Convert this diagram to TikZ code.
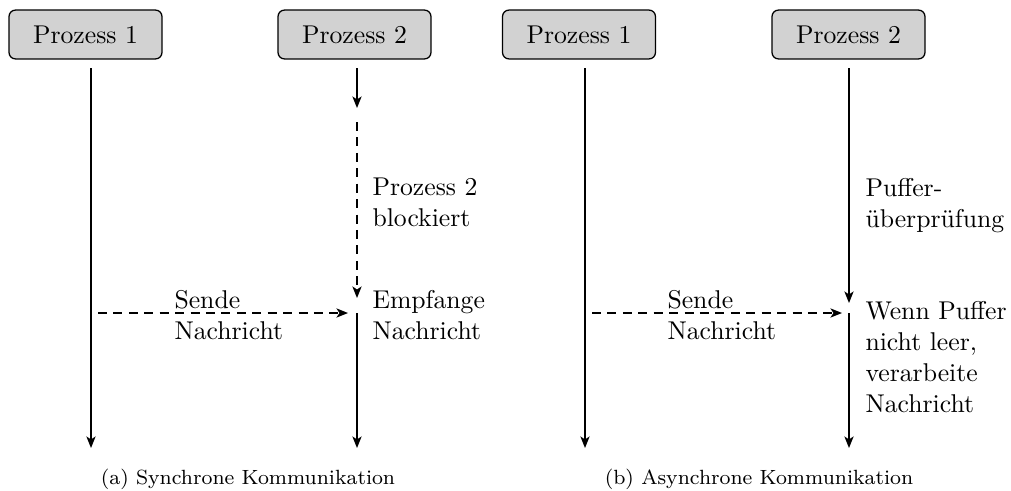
\documentclass[tikz,border=0pt]{standalone}
\usetikzlibrary{arrows.meta}
\begin{document}
\begin{tikzpicture}[x=0.389pt,y=-0.389pt,
  proc/.style={draw, fill=gray!35, rounded corners=2.5pt, minimum width=59.5pt, minimum height=19pt, inner sep=0pt, line width=0.5pt},
  flow/.style={line width=0.6pt, -{Stealth[length=4.5pt,width=3.6pt,inset=1.2pt]}},
  msg/.style={flow, dash pattern=on 3.5pt off 2.5pt},
  lbl/.style={align=left, anchor=base west, inner sep=0pt},
  capt/.style={font=\footnotesize, anchor=base, inner sep=0pt}]
\useasboundingbox (0,0) rectangle (1011,491);
% boxes
\node[proc] (p1a) at (85.5,34.5) {Prozess 1};
\node[proc] (p2a) at (354.5,34.5) {Prozess 2};
\node[proc] (p1b) at (579,34.5) {Prozess 1};
\node[proc] (p2b) at (848.5,34.5) {Prozess 2};
% (a) coordinates
\coordinate (a1s) at (91,68);  \coordinate (a1e) at (91,448);
\coordinate (a2s) at (357,68); \coordinate (a2m) at (357,108);
\coordinate (a2ds) at (357,122); \coordinate (a2de) at (357,298);
\coordinate (a2r) at (357,313); \coordinate (a2e) at (357,448);
\coordinate (ams) at (98,313); \coordinate (ame) at (348,313);
\draw[flow] (a1s) -- (a1e);
\draw[flow] (a2s) -- (a2m);
\draw[msg] (a2ds) -- (a2de);
\draw[flow] (a2r) -- (a2e);
\draw[msg] (ams) -- (ame);
% (b) coordinates
\coordinate (b1s) at (585,68); \coordinate (b1e) at (585,448);
\coordinate (b2s) at (849,68); \coordinate (b2m) at (849,303);
\coordinate (b2r) at (849,313); \coordinate (b2e) at (849,448);
\coordinate (bms) at (592,313); \coordinate (bme) at (842,313);
\draw[flow] (b1s) -- (b1e);
\draw[flow] (b2s) -- (b2m);
\draw[flow] (b2r) -- (b2e);
\draw[msg] (bms) -- (bme);
% labels (base = baseline of last line)
\node[lbl] (sa) at (174,339) {Sende\\Nachricht};
\node[lbl] (blk) at (372,226) {Prozess 2\\blockiert};
\node[lbl] (emp) at (372,339) {Empfange\\Nachricht};
\node[lbl] (sb) at (667,339) {Sende\\Nachricht};
\node[lbl] (puf) at (865,227) {Puffer-\\überprüfung};
\node[lbl] (wenn) at (865,412) {Wenn Puffer\\nicht leer,\\verarbeite\\Nachricht};
% captions
\node[capt] (capa) at (248,484) {(a) Synchrone Kommunikation};
\node[capt] (capb) at (759,484) {(b) Asynchrone Kommunikation};
\end{tikzpicture}
\end{document}
